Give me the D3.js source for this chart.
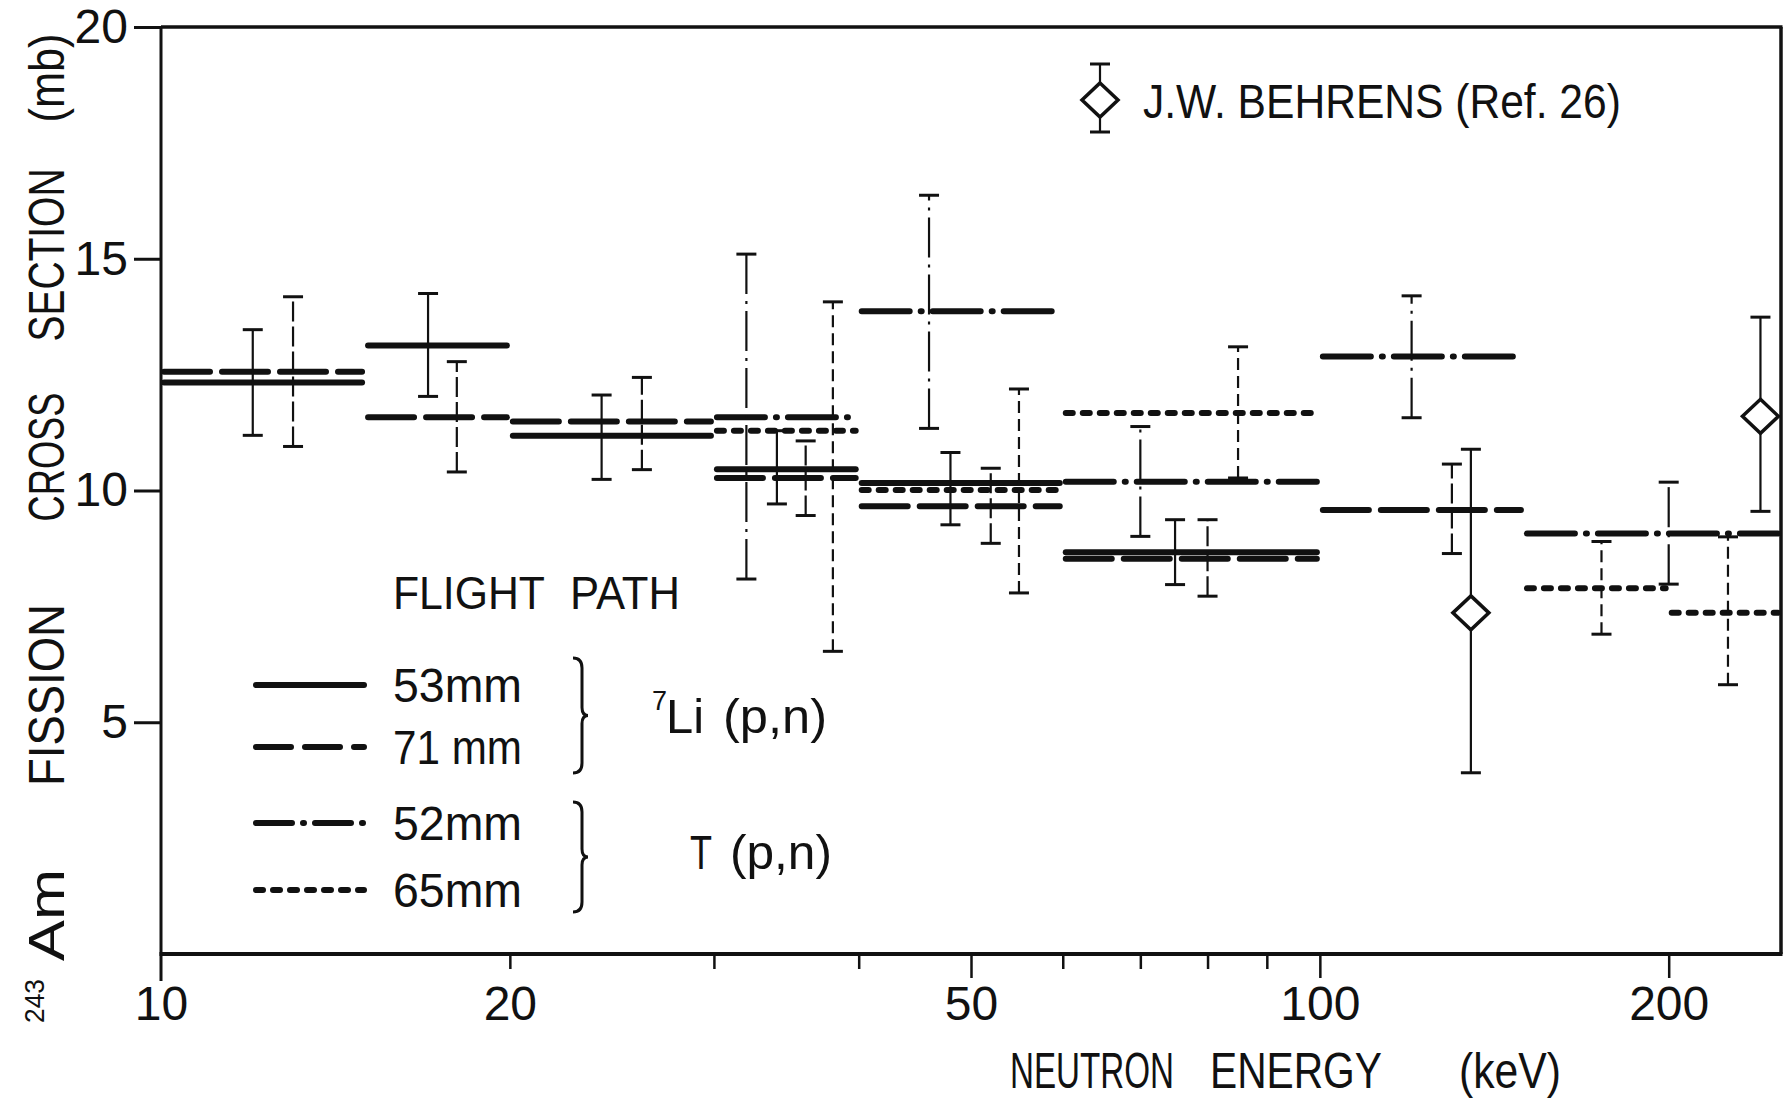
<!DOCTYPE html>
<meta charset="utf-8">
<html>
<head>
<style>
  body { margin: 0; background: #fff; }
  svg text { font-family: "Liberation Sans", Arial, sans-serif; fill: #111; }
</style>
</head>
<body>
<script src="https://cdn.jsdelivr.net/npm/d3@7"></script>
<script>
  // energy bins (keV) and cross sections (mb) per flight path
  var li53Bins = [[10, 15], [15, 20], [20, 30], [30, 40], [40, 60], [60, 100]];
  var li53Values = [12.33, 13.13, 11.18, 10.46, 10.16, 8.67];
  var li53Errors = [[12, 11.19, 13.47], [17, 12.03, 14.25], [24, 10.24, 12.06], [34, 9.71, 11.29], [48, 9.26, 10.82], [75, 7.97, 9.37]];

  var li71Bins = [[10, 15], [15, 20], [20, 30], [30, 40], [40, 60], [60, 100], [100, 150]];
  var li71Values = [12.56, 11.58, 11.49, 10.27, 9.66, 8.53, 9.58];
  var li71Errors = [[13, 10.95, 14.18], [18, 10.4, 12.78], [26, 10.45, 12.44], [36, 9.46, 11.07], [52, 8.86, 10.48], [80, 7.72, 9.37], [130, 8.64, 10.57]];

  var t52Bins = [[30, 40], [40, 60], [60, 100], [100, 150], [150, 250]];
  var t52Values = [11.58, 13.87, 10.19, 12.89, 9.07];
  var t52Errors = [[32, 8.09, 15.1], [46, 11.34, 16.37], [70, 9.01, 11.38], [120, 11.57, 14.2], [200, 7.98, 10.18]];

  var t65Bins = [[30, 40], [40, 60], [60, 100], [150, 200], [200, 250]];
  var t65Values = [11.29, 10.01, 11.67, 7.89, 7.36];
  var t65Errors = [[38, 6.53, 14.07], [55, 7.79, 12.19], [85, 10.27, 13.1], [175, 6.9, 8.9], [225, 5.81, 9.0]];

  // J.W. Behrens (Ref. 26)
  var behrensEnergy = [135, 240];
  var behrensValues = [7.36, 11.6];
  var behrensLow = [3.91, 9.55];
  var behrensHigh = [10.89, 13.74];

  var xLabelTicks = [10, 20, 50, 100, 200];
  var xLongTicks = [50, 100, 200];
  var xShortTicks = [20, 30, 40, 60, 70, 80, 90];
  var yTicks = [5, 10, 15, 20];

  var width = 1787, height = 1098;
  var margin = { top: 27, right: 6, bottom: 144, left: 161 };

  var x = d3.scaleLog().domain([10, 250]).range([margin.left, width - margin.right]);
  var y = d3.scaleLinear().domain([0, 20]).range([height - margin.bottom, margin.top]);

  var svg = d3.select("body").append("svg")
    .attr("width", width)
    .attr("height", height)
    .style("background", "#fff");

  var ink = "#111";

  var series = [
    { name: "53mm", bins: li53Bins, values: li53Values, errors: li53Errors, dash: null, errDash: null, legendDash: null },
    { name: "71 mm", bins: li71Bins, values: li71Values, errors: li71Errors, dash: "46,12", errDash: "20,5", legendDash: "35,14" },
    { name: "52mm", bins: t52Bins, values: t52Values, errors: t52Errors, dash: "48,11,1,11", errDash: "40,7,3,7", legendDash: "36,11,1,11" },
    { name: "65mm", bins: t65Bins, values: t65Values, errors: t65Errors, dash: "7,10", errDash: "12,6", legendDash: "7,10" }
  ];

  // text squeezed horizontally to a given width (the original lettering is condensed)
  function narrowText(g, str, tx, ty, size, w, rot, anchor) {
    var t = g.append("text")
      .attr("text-anchor", anchor || "start")
      .style("font-size", size + "px")
      .text(str);
    var s = w / t.node().getComputedTextLength();
    t.attr("transform", "translate(" + tx + "," + ty + ")" + (rot ? " rotate(" + rot + ")" : "") + " scale(" + s + ",1)");
    return t;
  }

  // horizontal bin lines
  series.forEach(function (s) {
    svg.append("g")
      .selectAll("line")
      .data(d3.zip(s.bins, s.values))
      .enter().append("line")
      .attr("x1", function (d) { return x(d[0][0]) + 3; })
      .attr("x2", function (d) { return x(d[0][1]) - 3; })
      .attr("y1", function (d) { return y(d[1]); })
      .attr("y2", function (d) { return y(d[1]); })
      .style("stroke", ink)
      .style("stroke-width", 6)
      .style("stroke-linecap", "round")
      .style("stroke-dasharray", s.dash);
  });

  function errorBar(g, e, lo, hi, dash) {
    g.append("line")
      .attr("x1", x(e)).attr("x2", x(e))
      .attr("y1", y(lo)).attr("y2", y(hi))
      .style("stroke", ink)
      .style("stroke-width", 2.2)
      .style("stroke-dasharray", dash);
    [lo, hi].forEach(function (v) {
      g.append("line")
        .attr("x1", x(e) - 10).attr("x2", x(e) + 10)
        .attr("y1", y(v)).attr("y2", y(v))
        .style("stroke", ink)
        .style("stroke-width", 3);
    });
  }

  var bars = svg.append("g").attr("class", "errors");
  series.forEach(function (s) {
    s.errors.forEach(function (d) { errorBar(bars, d[0], d[1], d[2], s.errDash); });
  });

  // Behrens points
  function diamond(g, cx, cy) {
    g.append("path")
      .attr("d", "M" + cx + "," + (cy - 17) + "L" + (cx + 18) + "," + cy + "L" + cx + "," + (cy + 17) + "L" + (cx - 18) + "," + cy + "Z")
      .style("fill", "#fff")
      .style("stroke", ink)
      .style("stroke-width", 3.5);
  }
  behrensEnergy.forEach(function (e, i) {
    errorBar(bars, e, behrensLow[i], behrensHigh[i], null);
    diamond(bars, x(e), y(behrensValues[i]));
  });

  // axes
  var x0 = x.range()[0], x1 = x.range()[1], yb = y.range()[0], yt = y.range()[1];

  svg.append("g")
    .attr("transform", "translate(0," + yb + ")")
    .call(d3.axisBottom(x).tickValues(xShortTicks).tickSize(15).tickSizeOuter(0).tickFormat(""))
    .call(function (g) { g.select(".domain").remove(); })
    .selectAll("line").style("stroke", ink).style("stroke-width", 2.5);

  svg.append("g")
    .attr("transform", "translate(0," + yb + ")")
    .call(d3.axisBottom(x).tickValues(xLongTicks).tickSize(24).tickSizeOuter(0).tickFormat(""))
    .call(function (g) { g.select(".domain").remove(); })
    .selectAll("line").style("stroke", ink).style("stroke-width", 2.5);

  svg.append("g")
    .attr("transform", "translate(0," + yb + ")")
    .call(d3.axisBottom(x).tickValues(xLabelTicks).tickSize(0).tickPadding(32).tickFormat(d3.format("d")))
    .call(function (g) { g.select(".domain").remove(); })
    .selectAll("text")
    .style("font-size", "48px")
    .style("fill", ink);

  svg.append("g")
    .attr("transform", "translate(" + x0 + ",0)")
    .call(d3.axisLeft(y).tickValues(yTicks).tickSize(27).tickPadding(6).tickSizeOuter(0).tickFormat(d3.format("d")))
    .call(function (g) {
      g.select(".domain").remove();
      g.selectAll("line").style("stroke", ink).style("stroke-width", 3);
      g.selectAll("text").style("font-size", "48px").style("fill", ink);
    });

  // frame
  var frame = svg.append("g").style("stroke", ink).style("fill", "none");
  frame.append("line").attr("x1", x0).attr("x2", x0).attr("y1", yt).attr("y2", yb + 27).style("stroke-width", 3);
  frame.append("line").attr("x1", x0 - 1.5).attr("x2", x1 + 1.5).attr("y1", yb).attr("y2", yb).style("stroke-width", 4);
  frame.append("line").attr("x1", x0).attr("x2", x1 + 1.5).attr("y1", yt).attr("y2", yt).style("stroke-width", 3.5);
  frame.append("line").attr("x1", x1).attr("x2", x1).attr("y1", yt).attr("y2", yb).style("stroke-width", 3.5);

  // axis titles
  var yTitle = [
    { t: "(mb)", c: 78, len: 89 },
    { t: "SECTION", c: 255, len: 173 },
    { t: "CROSS", c: 457, len: 129 },
    { t: "FISSION", c: 695, len: 182 },
    { t: "Am", c: 915, len: 92 }
  ];
  var titles = svg.append("g");
  yTitle.forEach(function (w) {
    narrowText(titles, w.t, 64, w.c, 50, w.len, -90, "middle");
  });
  narrowText(titles, "243", 44, 1001, 27, 44, -90, "middle");

  var xTitle = [
    { t: "NEUTRON", x: 1010, len: 164 },
    { t: "ENERGY", x: 1210, len: 172 },
    { t: "(keV)", x: 1459, len: 102 }
  ];
  xTitle.forEach(function (w) {
    narrowText(titles, w.t, w.x, 1088, 50, w.len);
  });

  // flight path legend
  var leg = svg.append("g");
  narrowText(leg, "FLIGHT", 393, 609, 46, 152);
  narrowText(leg, "PATH", 570, 609, 46, 110);

  var legendY = [685, 747, 823, 890];
  series.forEach(function (s, i) {
    leg.append("line")
      .attr("x1", 256).attr("x2", 364)
      .attr("y1", legendY[i]).attr("y2", legendY[i])
      .style("stroke", ink)
      .style("stroke-width", 6)
      .style("stroke-linecap", "round")
      .style("stroke-dasharray", s.legendDash);
    narrowText(leg, s.name, 393, legendY[i] + 17, 48, 129);
  });

  function brace(y0, y1) {
    var bx = 573, ym = (y0 + y1) / 2;
    return "M" + bx + "," + y0 +
      "Q" + (bx + 9) + "," + y0 + " " + (bx + 9) + "," + (y0 + 10) +
      "L" + (bx + 9) + "," + (ym - 8) +
      "Q" + (bx + 9) + "," + ym + " " + (bx + 15) + "," + ym +
      "Q" + (bx + 9) + "," + ym + " " + (bx + 9) + "," + (ym + 8) +
      "L" + (bx + 9) + "," + (y1 - 10) +
      "Q" + (bx + 9) + "," + y1 + " " + bx + "," + y1;
  }
  leg.append("path").attr("d", brace(658, 773)).style("fill", "none").style("stroke", ink).style("stroke-width", 3);
  leg.append("path").attr("d", brace(802, 912)).style("fill", "none").style("stroke", ink).style("stroke-width", 3);

  leg.append("text").attr("x", 652).attr("y", 710).style("font-size", "27px").text("7");
  narrowText(leg, "Li", 666, 733, 48, 38);
  narrowText(leg, "(p,n)", 723, 733, 48, 104);
  narrowText(leg, "T", 690, 869, 48, 22);
  narrowText(leg, "(p,n)", 730, 869, 48, 102);

  // Behrens legend
  var bl = svg.append("g");
  bl.append("line").attr("x1", 1100).attr("x2", 1100).attr("y1", 64).attr("y2", 132).style("stroke", ink).style("stroke-width", 2.2);
  bl.append("line").attr("x1", 1090).attr("x2", 1110).attr("y1", 64).attr("y2", 64).style("stroke", ink).style("stroke-width", 3);
  bl.append("line").attr("x1", 1090).attr("x2", 1110).attr("y1", 132).attr("y2", 132).style("stroke", ink).style("stroke-width", 3);
  diamond(bl, 1100, 100);
  narrowText(bl, "J.W. BEHRENS (Ref. 26)", 1143, 118, 49, 478);
</script>
</body>
</html>
